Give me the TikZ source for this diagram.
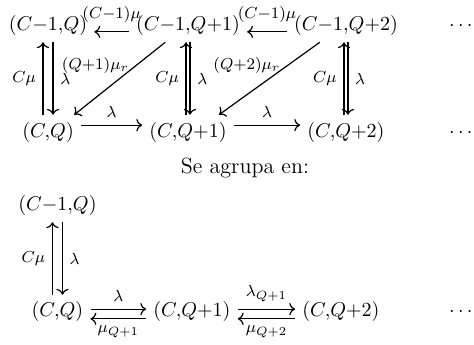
\documentclass[tikz,border=0pt]{standalone}
\usepackage{amsmath}
\usetikzlibrary{arrows.meta, positioning}
\tikzset{
  % thin lines and classic TeX arrow tips, as in the original scheme
  every picture/.append style = {line width=0.6pt, >={To}},
  stnode/.style = {execute at begin node={\medmuskip=0mu\thinmuskip=0mu}},
  elbl/.style   = {stnode, font=\footnotesize},
}

\begin{document}
\begin{tikzpicture}
\useasboundingbox (0,0) rectangle (8.33,6.063);
% ---- full chain: top row (C-1,.) and bottom row (C,.) --------------------
\node[stnode] (t1) at (0.844,5.623) {$(C-1,Q)$};
\node[stnode] (t2) at (3.304,5.623) {$(C-1,Q+1)$};
\node[stnode] (t3) at (6.080,5.623) {$(C-1,Q+2)$};
\node (dt) at (8.10,5.623) {$\vphantom{(}\cdots$};
\node[stnode] (s1) at (0.844,3.743) {$(C,Q)$};
\node[stnode] (s2) at (3.304,3.743) {$(C,Q+1)$};
\node[stnode] (s3) at (6.080,3.743) {$(C,Q+2)$};
\node (ds) at (8.10,3.743) {$\vphantom{(}\cdots$};

\draw[->] ([yshift=-0.12cm]t2.west) -- ([yshift=-0.12cm]t1.east)
  node[midway, above=1pt, elbl] {$(C-1)\mu$};
\draw[->] ([yshift=-0.12cm]t3.west) -- ([yshift=-0.12cm]t2.east)
  node[midway, above=1pt, elbl] {$(C-1)\mu$};

\draw[->] ([xshift=-0.088cm]s1.north) -- ([xshift=-0.088cm]t1.south)
  node[midway, left, elbl] {$C\mu$};
\draw[->] ([xshift=0.088cm]t1.south) -- ([xshift=0.088cm]s1.north)
  node[midway, right, elbl] {$\lambda$};
\draw[->] ([xshift=-0.035cm]s2.north) -- ([xshift=-0.035cm]t2.south)
  node[midway, left, elbl] {$C\mu$};
\draw[->] ([xshift=0.035cm]t2.south) -- ([xshift=0.035cm]s2.north)
  node[midway, right, elbl] {$\lambda$};
\draw[->] ([xshift=-0.035cm]s3.north) -- ([xshift=-0.035cm]t3.south)
  node[midway, left, elbl] {$C\mu$};
\draw[->] ([xshift=0.035cm]t3.south) -- ([xshift=0.035cm]s3.north)
  node[midway, right, elbl] {$\lambda$};

\draw[->] ([xshift=-0.40cm]t2.south) -- ([xshift=-0.12cm]s1.north east)
  node[pos=0.32, left, elbl] {$(Q+1)\mu_r$};
\draw[->] ([xshift=-0.46cm]t3.south) -- ([xshift=-0.26cm]s2.north east)
  node[pos=0.32, left, elbl] {$(Q+2)\mu_r$};

\draw[->] ([yshift=0.12cm]s1.east) -- ([yshift=0.12cm]s2.west)
  node[midway, above, elbl] {$\lambda$};
\draw[->] ([yshift=0.12cm]s2.east) -- ([yshift=0.12cm]s3.west)
  node[midway, above, elbl] {$\lambda$};

% ---- grouped chain -------------------------------------------------------
\node[font=\fontsize{11pt}{13pt}\selectfont] (grp) at (4.305,3.110) {Se agrupa en:};
\node[stnode] (u0) at (1.01,2.460) {$(C-1,Q)$};
\node[stnode] (g1) at (1.01,0.580) {$(C,Q)$};
\node[stnode] (g2) at (3.374,0.580) {$(C,Q+1)$};
\node[stnode] (g3) at (5.992,0.580) {$(C,Q+2)$};
\node (dg) at (8.10,0.580) {$\vphantom{(}\cdots$};

\draw[->] ([xshift=-0.088cm]g1.north) -- ([xshift=-0.088cm]u0.south)
  node[midway, left, elbl] {$C\mu$};
\draw[->] ([xshift=0.088cm]u0.south) -- ([xshift=0.088cm]g1.north)
  node[midway, right, elbl] {$\lambda$};

\draw[->] ([yshift=0.05cm]g1.east) -- ([yshift=0.05cm]g2.west)
  node[midway, above, elbl] {$\lambda$};
\draw[->] ([yshift=-0.12cm]g2.west) -- ([yshift=-0.12cm]g1.east)
  node[midway, below, elbl] {$\mu_{Q+1}$};
\draw[->] ([yshift=0.05cm]g2.east) -- ([yshift=0.05cm]g3.west)
  node[midway, above, elbl] {$\lambda_{Q+1}$};
\draw[->] ([yshift=-0.12cm]g3.west) -- ([yshift=-0.12cm]g2.east)
  node[midway, below, elbl] {$\mu_{Q+2}$};
\end{tikzpicture}
\end{document}
